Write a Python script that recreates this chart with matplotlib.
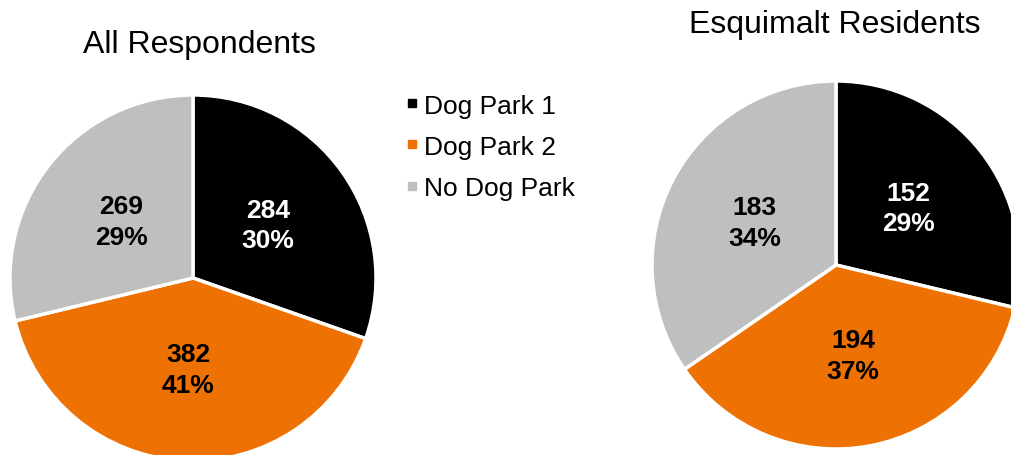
import matplotlib
matplotlib.use("Agg")
import matplotlib.pyplot as plt
from matplotlib.lines import Line2D
import numpy as np

plt.rcParams['font.family'] = ['Liberation Sans', 'DejaVu Sans']

categories = ["Dog Park 1", "Dog Park 2", "No Dog Park"]
all_counts = [284, 382, 269]
all_pcts = ["30%", "41%", "29%"]
esq_counts = [152, 194, 183]
esq_pcts = ["29%", "37%", "34%"]
titles = ["All Respondents", "Esquimalt Residents"]
colors = ["#000000", "#EE7203", "#BFBFBF"]
label_colors = ["white", "black", "black"]

W, H = 1012, 456
fig = plt.figure(figsize=(W / 100, H / 100), dpi=100)


def add_pie(cx, cy, r, counts, pcts):
    ax = fig.add_axes([(cx - r) / W, (H - cy - r) / H, 2 * r / W, 2 * r / H])
    wedges, _ = ax.pie(counts, colors=colors, startangle=90, counterclock=False,
                       radius=1.0, wedgeprops=dict(edgecolor="white", linewidth=2.5))
    for w in wedges:
        w.set_clip_on(False)
    total = sum(counts)
    start = 90.0
    for i, c in enumerate(counts):
        ang = start - 360.0 * c / total / 2
        start -= 360.0 * c / total
        x = 0.5 * np.cos(np.radians(ang))
        y = 0.5 * np.sin(np.radians(ang))
        ax.text(x, y, f"{c}\n{pcts[i]}", ha="center", va="center",
                fontsize=19, fontweight="bold", color=label_colors[i],
                linespacing=1.35)
    ax.set_xlim(-1, 1)
    ax.set_ylim(-1, 1)
    ax.set_aspect("equal")
    ax.axis("off")
    return ax


add_pie(193, 279, 183, all_counts, all_pcts)
add_pie(836, 266, 184, esq_counts, esq_pcts)

fig.text(199 / W, 1 - 53 / H, titles[0], ha="center", va="baseline", fontsize=23)
fig.text(835 / W, 1 - 33 / H, titles[1], ha="center", va="baseline", fontsize=23)

handles = [Line2D([0], [0], marker="s", linestyle="none", markersize=6,
                  markerfacecolor=c, markeredgecolor=c) for c in colors]
fig.legend(handles, categories, loc="upper left",
           bbox_to_anchor=(394 / W, 1 - 84 / H), frameon=False,
           fontsize=19, handlelength=0.6, handletextpad=0.15,
           labelspacing=0.65, borderaxespad=0)

fig.savefig("out.png", dpi=100)
